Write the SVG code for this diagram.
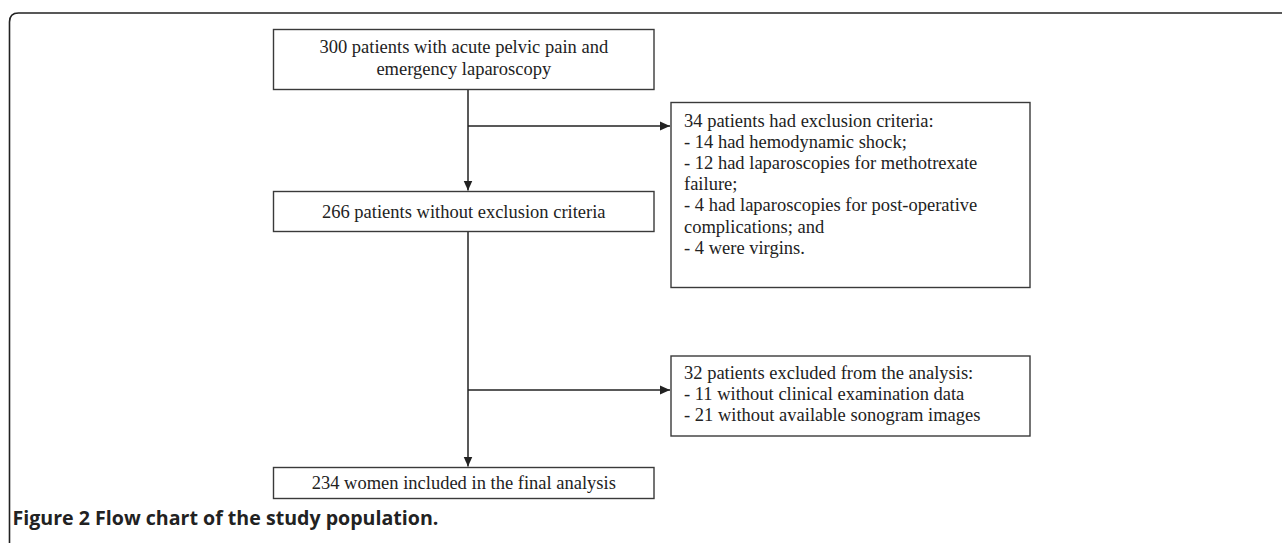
<svg xmlns="http://www.w3.org/2000/svg" width="1282" height="543" viewBox="0 0 1282 543">
<style>
.box{fill:#fff;stroke:#3a3a3a;stroke-width:1.4}
.t{font-family:"Liberation Serif","Times New Roman",serif;font-size:18.5px;fill:#222}
.c{text-anchor:middle}
.ln{stroke:#222;stroke-width:1.5;fill:none}
.cap{font-family:"Open Sans","Liberation Sans",sans-serif;font-weight:bold;font-size:19.6px;fill:#222}
</style>
<defs>
<marker id="ah" markerWidth="11" markerHeight="11" refX="10" refY="5.5" orient="auto" markerUnits="userSpaceOnUse">
<path d="M0,1 L10,5.5 L0,10 Z" fill="#222"/>
</marker>
</defs>
<rect width="1282" height="543" fill="#fff"/>
<path d="M9.5,543 V22 Q9.5,13 18.5,13 H1282" fill="none" stroke="#222" stroke-width="1.6"/>
<g id="connectors">
<line class="ln" x1="468" y1="89.5" x2="468" y2="190.5" marker-end="url(#ah)"/>
<line class="ln" x1="468" y1="126" x2="670" y2="126" marker-end="url(#ah)"/>
<line class="ln" x1="468" y1="231.5" x2="468" y2="466.5" marker-end="url(#ah)"/>
<line class="ln" x1="468" y1="390" x2="670" y2="390" marker-end="url(#ah)"/>
</g>
<g id="n1">
<rect class="box" x="273.5" y="29.5" width="380.5" height="60"/>
<text class="t c" x="463.8" y="53">300 patients with acute pelvic pain and</text>
<text class="t c" x="463.8" y="74.5">emergency laparoscopy</text>
</g>
<g id="n2">
<rect class="box" x="273.5" y="191.5" width="380.5" height="40"/>
<text class="t c" x="463.8" y="218">266 patients without exclusion criteria</text>
</g>
<g id="n3">
<rect class="box" x="671" y="102.5" width="359" height="185"/>
<text class="t" x="684" y="126.5">34 patients had exclusion criteria:</text>
<text class="t" x="684" y="147.7">- 14 had hemodynamic shock;</text>
<text class="t" x="684" y="168.9">- 12 had laparoscopies for methotrexate</text>
<text class="t" x="684" y="190.1">failure;</text>
<text class="t" x="684" y="211.3">- 4 had laparoscopies for post-operative</text>
<text class="t" x="684" y="232.5">complications; and</text>
<text class="t" x="684" y="253.7">- 4 were virgins.</text>
</g>
<g id="n4">
<rect class="box" x="671" y="356" width="359" height="80"/>
<text class="t" x="684" y="378.5">32 patients excluded from the analysis:</text>
<text class="t" x="684" y="399.7">- 11 without clinical examination data</text>
<text class="t" x="684" y="420.9">- 21 without available sonogram images</text>
</g>
<g id="n5">
<rect class="box" x="273.5" y="467.5" width="380.5" height="31"/>
<text class="t c" x="463.8" y="488.5">234 women included in the final analysis</text>
</g>
<text class="cap" x="12.5" y="525">Figure 2 Flow chart of the study population.</text>
</svg>
